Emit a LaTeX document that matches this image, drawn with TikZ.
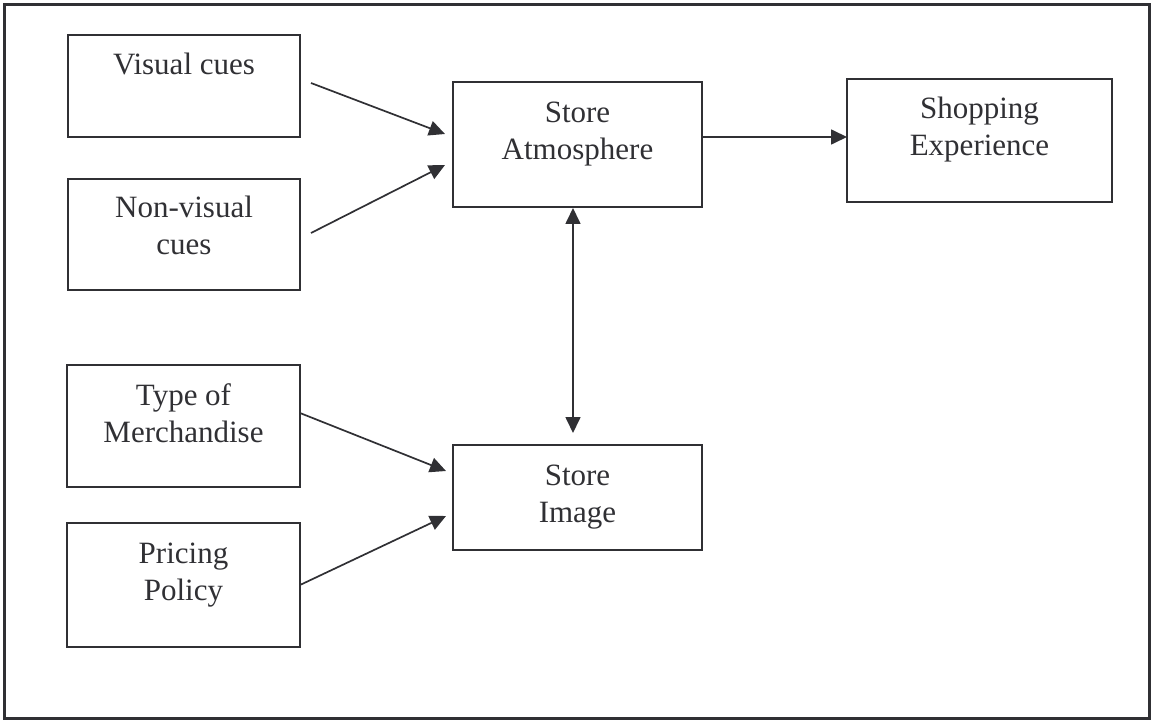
\documentclass[tikz,border=0pt]{standalone}
\usepackage{fontspec}
\setmainfont{Liberation Serif}
\usetikzlibrary{arrows.meta}
\definecolor{ink}{RGB}{48,48,52}
\begin{document}
\begin{tikzpicture}[x=1pt,y=-1pt,
  box/.style={draw=ink, line width=2pt, inner sep=0pt, outer sep=0pt},
  lbl/.style={text=ink, font=\fontsize{31}{37}\selectfont, align=center, inner sep=0pt, outer sep=0pt, anchor=north},
  conn/.style={draw=ink, line width=1.7pt, -{Triangle[length=16pt,width=15pt]}},
  dconn/.style={draw=ink, line width=1.7pt, {Triangle[length=16pt,width=15pt]}-{Triangle[length=16pt,width=15pt]}}]
\useasboundingbox (0,0) rectangle (1152,722);
\draw[draw=ink, line width=3.5pt] (4.5,4.5) rectangle (1149.5,718.5);

% boxes
\node[box, minimum width=232pt, minimum height=102pt] (vis) at (184,86) {};
\node[box, minimum width=232pt, minimum height=111pt] (nonvis) at (184,234.5) {};
\node[box, minimum width=233pt, minimum height=122pt] (type) at (183.5,426) {};
\node[box, minimum width=233pt, minimum height=124pt] (price) at (183.5,585) {};
\node[box, minimum width=249pt, minimum height=125pt] (atm) at (577.5,144.5) {};
\node[box, minimum width=265pt, minimum height=123pt] (shop) at (979.5,140.5) {};
\node[box, minimum width=249pt, minimum height=105pt] (img) at (577.5,497.5) {};

% labels
\node[lbl] (visT) at ([yshift=-15pt]vis.north) {\rule{0pt}{25pt}Visual cues};
\node[lbl] (nonvisT) at ([yshift=-14pt]nonvis.north) {\rule{0pt}{25pt}Non-visual\\cues};
\node[lbl] (typeT) at ([yshift=-15pt]type.north) {\rule{0pt}{25pt}Type of\\Merchandise};
\node[lbl] (priceT) at ([yshift=-15pt]price.north) {\rule{0pt}{25pt}Pricing\\Policy};
\node[lbl] (atmT) at ([yshift=-16pt]atm.north) {\rule{0pt}{25pt}Store\\Atmosphere};
\node[lbl] (shopT) at ([yshift=-15pt]shop.north) {\rule{0pt}{25pt}Shopping\\Experience};
\node[lbl] (imgT) at ([yshift=-15pt]img.north) {\rule{0pt}{25pt}Store\\Image};

% connectors
\draw[conn] ([xshift=11pt,yshift=3pt]vis.east) -- ([xshift=-8pt,yshift=10.5pt]atm.west);
\draw[conn] ([xshift=11pt,yshift=1.5pt]nonvis.east) -- ([xshift=-8pt,yshift=-20.5pt]atm.west);
\draw[conn] ([yshift=13pt]type.east) -- ([xshift=-7pt,yshift=26.5pt]img.west);
\draw[conn] (price.east) -- ([xshift=-7pt,yshift=-18.5pt]img.west);
\draw[conn] ([yshift=7.5pt]atm.east) -- ([yshift=3.5pt]shop.west);
\draw[dconn] ([xshift=-4.5pt,yshift=-1pt]atm.south) -- ([xshift=-4.5pt,yshift=12pt]img.north);
\end{tikzpicture}
\end{document}
